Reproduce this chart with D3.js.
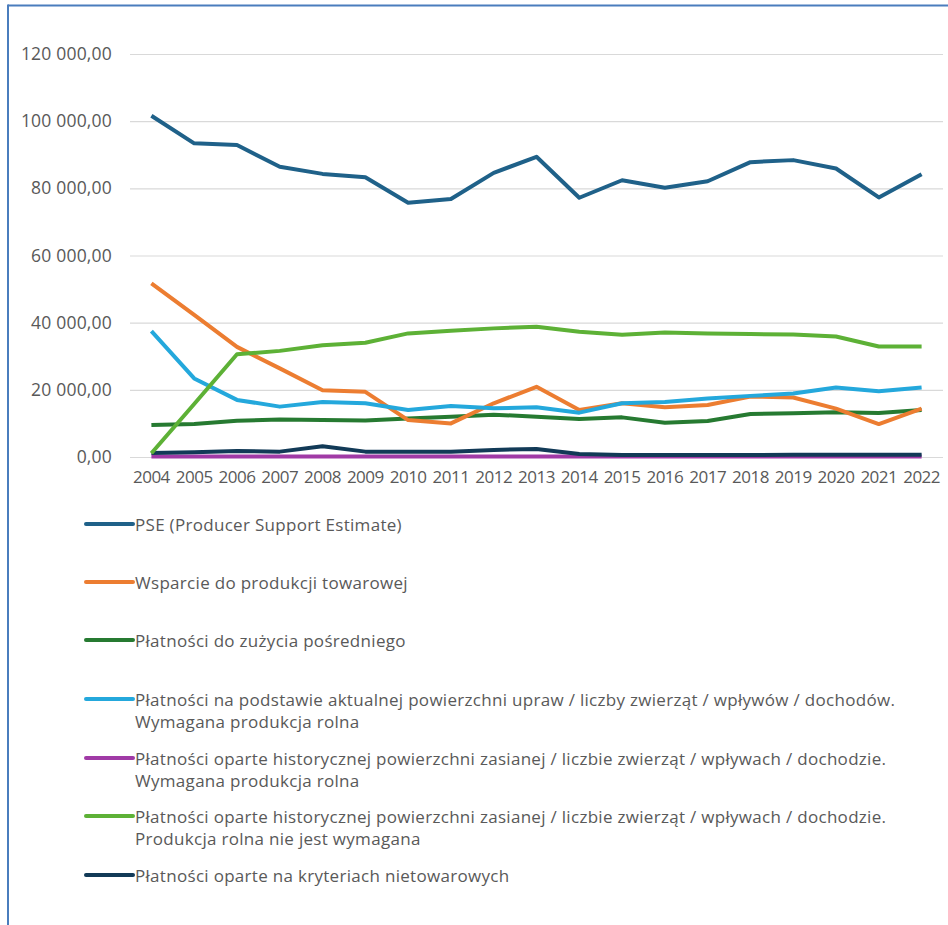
<!DOCTYPE html>
<html>
<head>
<meta charset="utf-8">
<script src="https://cdn.jsdelivr.net/npm/d3@7"></script>
<style>
  html, body { margin: 0; padding: 0; background: #fff; }
  svg { display: block; }
  text { font-family: "Open Sans", "Noto Sans", sans-serif; fill: #595959; }
</style>
</head>
<body>
<svg id="chart" width="948" height="925"></svg>
<script>
// Years on the x axis
const years = [2004, 2005, 2006, 2007, 2008, 2009, 2010, 2011, 2012, 2013,
               2014, 2015, 2016, 2017, 2018, 2019, 2020, 2021, 2022];

// Series values (one per year)
const pse       = [101600, 93400, 92900, 86400, 84300, 83300, 75700, 76800, 84600, 89400,
                   77200, 82400, 80200, 82100, 87800, 88400, 85900, 77300, 84200];
const wsparcie  = [51700, 42300, 32800, 26400, 19900, 19400, 11000, 10000, 16000, 20900,
                   14000, 16000, 14800, 15500, 18000, 17700, 14400, 9800, 14400];
const zuzycie   = [9500, 9800, 10800, 11200, 11000, 10900, 11500, 12000, 12600, 12000,
                   11300, 11800, 10200, 10700, 12800, 13000, 13300, 13100, 14000];
const aktualna  = [37500, 23400, 17000, 15000, 16400, 16000, 14000, 15200, 14500, 14800,
                   13200, 16000, 16400, 17400, 18200, 18900, 20700, 19600, 20700];
const histWymag = [150, 150, 150, 150, 150, 150, 150, 150, 150, 150,
                   150, 150, 150, 150, 150, 150, 150, 150, 150];
const histNie   = [1100, 15800, 30600, 31600, 33300, 34000, 36800, 37600, 38300, 38800,
                   37300, 36400, 37100, 36800, 36600, 36500, 35900, 32900, 32900];
const nietowar  = [1200, 1400, 1800, 1600, 3200, 1600, 1600, 1600, 2100, 2400,
                   900, 600, 600, 600, 600, 650, 650, 700, 700];

// Y axis ticks
const yTicks = [0, 20000, 40000, 60000, 80000, 100000, 120000];

// Series names as shown in the legend (one array of lines per entry)
const names = [
  ["PSE (Producer Support Estimate)"],
  ["Wsparcie do produkcji towarowej"],
  ["Płatności do zużycia pośredniego"],
  ["Płatności na podstawie aktualnej powierzchni upraw / liczby zwierząt / wpływów / dochodów.",
   "Wymagana produkcja rolna"],
  ["Płatności oparte historycznej powierzchni zasianej / liczbie zwierząt / wpływach / dochodzie.",
   "Wymagana produkcja rolna"],
  ["Płatności oparte historycznej powierzchni zasianej / liczbie zwierząt / wpływach / dochodzie.",
   "Produkcja rolna nie jest wymagana"],
  ["Płatności oparte na kryteriach nietowarowych"]
];
const colors = ["#1f6189", "#ec7d31", "#267a31", "#24a8dc", "#a03aa6", "#5db136", "#123a57"];
const seriesValues = [pse, wsparcie, zuzycie, aktualna, histWymag, histNie, nietowar];

const series = names.map((n, i) => ({ name: n, color: colors[i], values: seriesValues[i] }));

const svg = d3.select("#chart");

// Frame lines along top and left edge
svg.append("line").attr("x1", 8).attr("x2", 948).attr("y1", 5.5).attr("y2", 5.5)
  .attr("stroke", "#4a7dbd").attr("stroke-width", 2);
svg.append("line").attr("x1", 8).attr("x2", 8).attr("y1", 4.5).attr("y2", 925)
  .attr("stroke", "#4a7dbd").attr("stroke-width", 2);

const plotLeft = 130, plotRight = 943, plotTop = 54, plotBottom = 457;

const x = d3.scaleBand().domain(years).range([plotLeft, plotRight]).padding(0);
const xc = d => x(d) + x.bandwidth() / 2;
const y = d3.scaleLinear().domain([0, 120000]).range([plotBottom, plotTop]);

const fmt = v => {
  const s = d3.format(",.2f")(v);
  return s.replace(/,/g, " ").replace(".", ",");
};

// Gridlines and y labels
const yAxis = d3.axisLeft(y).tickValues(yTicks).tickSize(-(plotRight - plotLeft))
  .tickPadding(18).tickFormat(fmt);
const gy = svg.append("g").attr("transform", `translate(${plotLeft},0)`).call(yAxis);
gy.select(".domain").remove();
gy.selectAll(".tick line").attr("stroke", "#d9d9d9").attr("stroke-width", 1.2);
gy.selectAll(".tick text").attr("font-size", 17.5).attr("fill", "#595959")
  .attr("letter-spacing", 0.2)
  .style("font-family", "'Open Sans', sans-serif");

// X labels
const xAxis = d3.axisBottom(x).tickSize(0).tickPadding(14);
const gx = svg.append("g").attr("transform", `translate(0,${plotBottom})`).call(xAxis);
gx.select(".domain").remove();
gx.selectAll(".tick text").attr("font-size", 17).attr("fill", "#595959")
  .style("font-family", "'Open Sans', sans-serif").attr("letter-spacing", -0.5);

// Lines
const line = d3.line().x((d, i) => xc(years[i])).y(d => y(d));
const drawOrder = [4, 6, 2, 1, 3, 5, 0];
drawOrder.forEach(i => {
  const s = series[i];
  svg.append("path").datum(s.values)
    .attr("d", line)
    .attr("fill", "none")
    .attr("stroke", s.color)
    .attr("stroke-width", 4)
    .attr("stroke-linejoin", "round")
    .attr("stroke-linecap", "butt");
});

// Legend
const legendRows = [524, 582, 640, 699, 758, 816, 875];
const lg = svg.append("g");
series.forEach((s, i) => {
  const yy = legendRows[i];
  lg.append("line").attr("x1", 86).attr("x2", 133).attr("y1", yy).attr("y2", yy)
    .attr("stroke", s.color).attr("stroke-width", 4).attr("stroke-linecap", "round");
  s.name.forEach((t, j) => {
    lg.append("text").attr("x", 135).attr("y", yy + j * 22.5)
      .attr("dominant-baseline", "central")
      .attr("letter-spacing", 0.3)
      .attr("font-size", 17).text(t);
  });
});
</script>
</body>
</html>
